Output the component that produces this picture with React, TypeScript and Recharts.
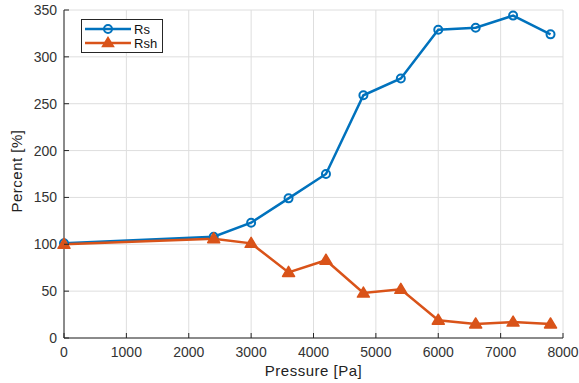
import { LineChart, Line, XAxis, YAxis, CartesianGrid, Legend, Label } from "recharts"

const pressure = [0, 2400, 3000, 3600, 4200, 4800, 5400, 6000, 6600, 7200, 7800]
const rs = [101, 108, 123, 149, 175, 259, 277, 329, 331, 344, 324]
const rsh = [100, 106, 101, 70, 83, 48, 52, 19, 15, 17, 15]
const xTicks = [0, 1000, 2000, 3000, 4000, 5000, 6000, 7000, 8000]
const yTicks = [0, 50, 100, 150, 200, 250, 300, 350]

const BLUE = "#0072BD"
const ORANGE = "#D95319"
const AXIS = "#262626"
const FONT = "Liberation Sans, Arial, sans-serif"

const data = pressure.map((p, i) => ({ p, rs: rs[i], rsh: rsh[i] }))

const BottomTick = ({ x, y, payload }: any) => (
  <g>
    <line x1={x} x2={x} y1={y} y2={y - 5} stroke={AXIS} />
    <text x={x} y={y + 19} textAnchor="middle" fill="#333" fontSize={14} fontFamily={FONT}>
      {payload.value}
    </text>
  </g>
)

const LeftTick = ({ x, y, payload }: any) => (
  <g>
    <line x1={x} x2={x + 5} y1={y} y2={y} stroke={AXIS} />
    <text x={x - 7} y={y + 5} textAnchor="end" fill="#333" fontSize={14} fontFamily={FONT}>
      {payload.value}
    </text>
  </g>
)

const TopTick = ({ x, y }: any) => <line x1={x} x2={x} y1={y} y2={y + 5} stroke={AXIS} />
const RightTick = ({ x, y }: any) => <line x1={x} x2={x - 5} y1={y} y2={y} stroke={AXIS} />

const Circle = ({ cx, cy }: any) =>
  cx == null ? null : <circle cx={cx} cy={cy} r={4} fill="none" stroke={BLUE} strokeWidth={2} />

const Triangle = ({ cx, cy }: any) =>
  cx == null ? null : (
    <polygon
      points={`${cx},${cy - 6} ${cx - 6},${cy + 4} ${cx + 6},${cy + 4}`}
      fill={ORANGE}
      stroke={ORANGE}
      strokeWidth={1.5}
      strokeLinejoin="round"
    />
  )

const LegendBox = () => (
  <svg width={82} height={34} style={{ display: "block" }}>
    <rect x={0.5} y={0.5} width={81} height={33} fill="#fff" stroke={AXIS} />
    <line x1={4} x2={50} y1={10} y2={10} stroke={BLUE} strokeWidth={2.5} />
    <circle cx={27} cy={10} r={4} fill="none" stroke={BLUE} strokeWidth={2} />
    <text x={53} y={14.5} fontSize={13} fontFamily={FONT} fill="#111">Rs</text>
    <line x1={4} x2={50} y1={24} y2={24} stroke={ORANGE} strokeWidth={2.5} />
    <polygon points="27,18.5 21.5,27.5 32.5,27.5" fill={ORANGE} stroke={ORANGE} strokeWidth={1.5} />
    <text x={53} y={28.5} fontSize={13} fontFamily={FONT} fill="#111">Rsh</text>
  </svg>
)

export default function App() {
  return (
    <div style={{ position: "fixed", top: 0, left: 0, background: "#fff" }}>
      <LineChart width={579} height={383} data={data} margin={{ top: 10, right: 16, bottom: 0, left: 0 }}>
        <CartesianGrid stroke="#dedede" strokeWidth={1} />
        <XAxis
          dataKey="p"
          type="number"
          domain={[0, 8000]}
          ticks={xTicks}
          height={45}
          tickSize={0}
          tickMargin={0}
          tick={<BottomTick />}
          axisLine={{ stroke: AXIS }}
          interval={0}
        >
          <Label
            content={({ viewBox }: any) => (
              <text
                x={viewBox.x + viewBox.width / 2}
                y={376}
                textAnchor="middle"
                fontSize={15}
                fontFamily={FONT}
                fill="#222"
                letterSpacing={0.5}
              >
                Pressure [Pa]
              </text>
            )}
          />
        </XAxis>
        <XAxis
          xAxisId="top"
          orientation="top"
          dataKey="p"
          type="number"
          domain={[0, 8000]}
          ticks={xTicks}
          height={0}
          tickSize={0}
          tickMargin={0}
          tick={<TopTick />}
          axisLine={{ stroke: AXIS }}
          interval={0}
        />
        <YAxis
          type="number"
          domain={[0, 350]}
          ticks={yTicks}
          width={64}
          tickSize={0}
          tickMargin={0}
          tick={<LeftTick />}
          axisLine={{ stroke: AXIS }}
          interval={0}
        >
          <Label
            content={({ viewBox }: any) => {
              const cy = viewBox.y + viewBox.height / 2 - 3
              return (
                <text
                  x={16}
                  y={cy}
                  transform={`rotate(-90 16 ${cy})`}
                  textAnchor="middle"
                  dominantBaseline="central"
                  fontSize={15}
                  fontFamily={FONT}
                  fill="#222"
                  letterSpacing={0.5}
                >
                  Percent [%]
                </text>
              )
            }}
          />
        </YAxis>
        <YAxis
          yAxisId="right"
          orientation="right"
          type="number"
          domain={[0, 350]}
          ticks={yTicks}
          width={0}
          tickSize={0}
          tickMargin={0}
          tick={<RightTick />}
          axisLine={{ stroke: AXIS }}
          interval={0}
        />
        <Line
          dataKey="rs"
          name="Rs"
          stroke={BLUE}
          strokeWidth={2.5}
          dot={<Circle />}
          isAnimationActive={false}
        />
        <Line
          dataKey="rsh"
          name="Rsh"
          stroke={ORANGE}
          strokeWidth={2.5}
          dot={<Triangle />}
          isAnimationActive={false}
        />
        <Legend
          layout="vertical"
          align="center"
          verticalAlign="middle"
          content={() => <LegendBox />}
          wrapperStyle={{ top: 19, left: 81, width: 82, height: 34 }}
        />
      </LineChart>
    </div>
  )
}
